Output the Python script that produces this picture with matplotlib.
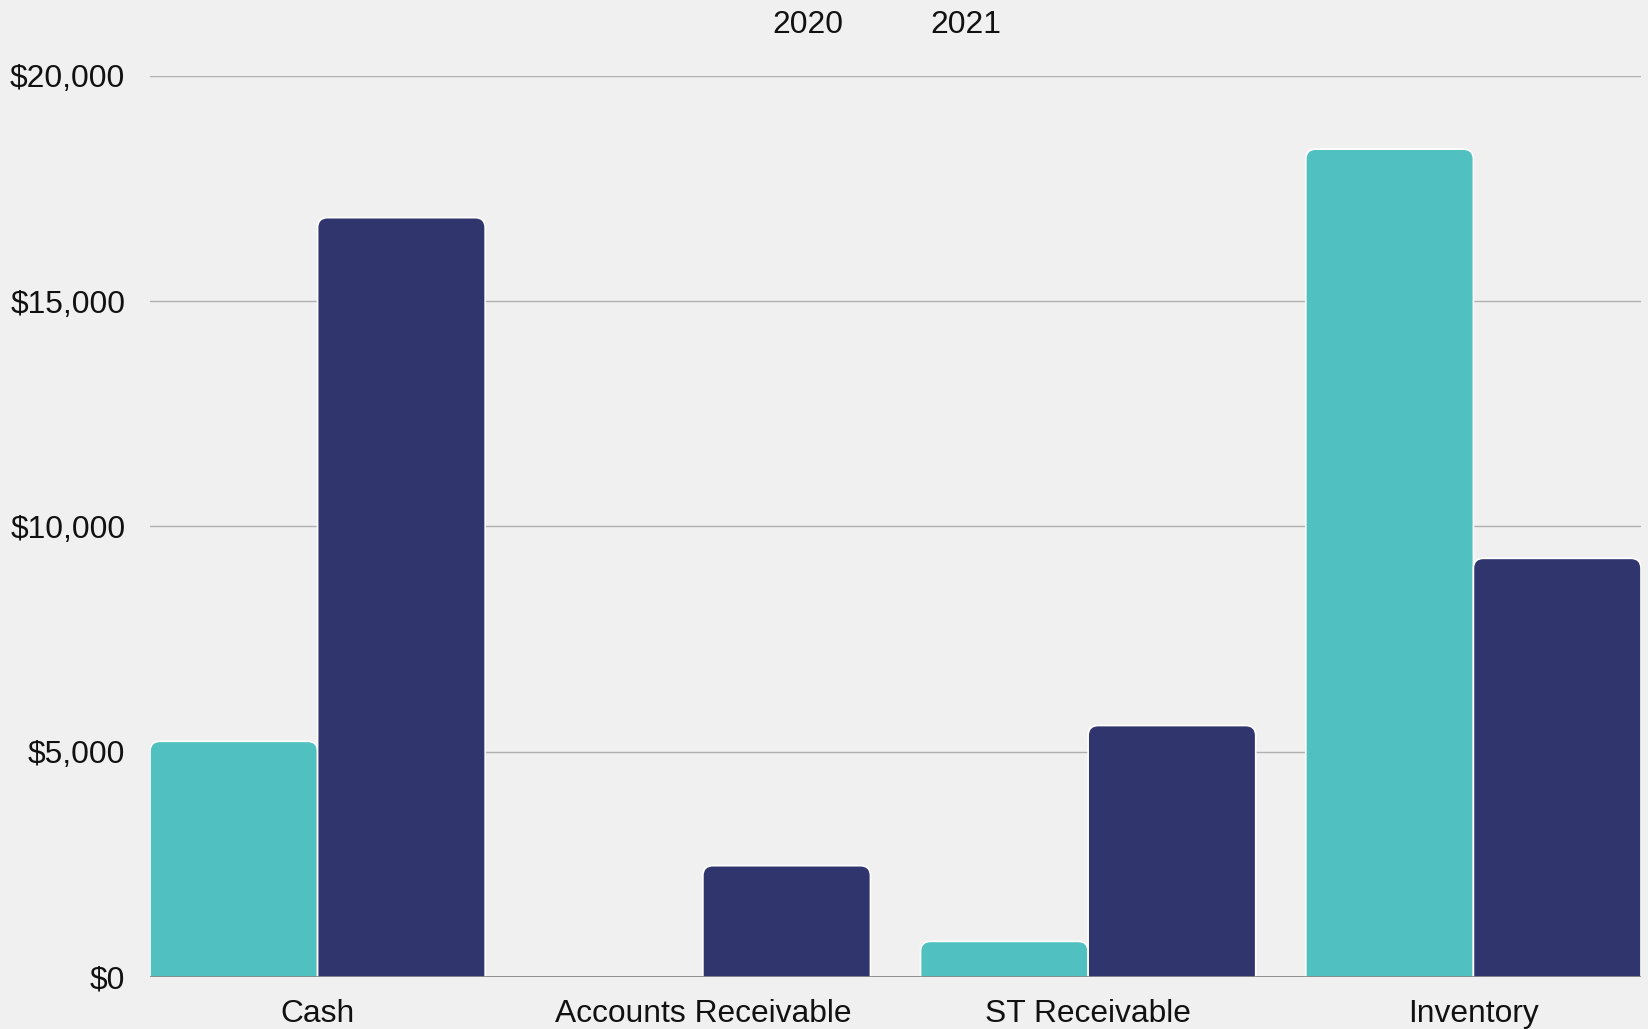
import matplotlib
matplotlib.use("Agg")
import matplotlib.pyplot as plt
import numpy as np
from matplotlib.patches import FancyBboxPatch
from matplotlib.ticker import FuncFormatter

categories = ["Cash", "Accounts Receivable", "ST Receivable", "Inventory"]
series_names = ["2020", "2021"]
values_2020 = [5230, 0, 790, 18370]
values_2021 = [16850, 2470, 5580, 9290]
y_ticks = [0, 5000, 10000, 15000, 20000]

colors = ["#50C0C0", "#31356E"]
bg = "#f0f0f0"

plt.rcParams['font.family'] = ['Liberation Sans', 'DejaVu Sans']
FS = 22.9

fig = plt.figure(figsize=(16.49, 10.29), dpi=100, facecolor=bg)
ax = fig.add_axes([150/1649, 52/1029, 1491/1649, 901.3/1029])
ax.set_facecolor(bg)

x = np.arange(len(categories))
w = 0.435
xmin, xmax = -w, len(categories) - 1 + w
ax.set_xlim(xmin, xmax)
ax.set_ylim(0, 20000)

fig.canvas.draw()
bbox = ax.get_window_extent()
ux = (xmax - xmin) / bbox.width
uy = 20000 / bbox.height
aspect = uy / ux
r = 10 * ux

for vals, off, col in [(values_2020, -w/2, colors[0]), (values_2021, w/2, colors[1])]:
    bars = ax.bar(x + off, vals, w, color=col, zorder=2)
    for rect, v in zip(bars, vals):
        rect.set_visible(False)
        if v <= 0:
            continue
        ext = 600
        p = FancyBboxPatch((rect.get_x(), -ext), rect.get_width(), v + ext,
                           boxstyle=f"round,pad=0,rounding_size={r}",
                           mutation_aspect=aspect, facecolor=col,
                           edgecolor="white", linewidth=1.2, zorder=2,
                           clip_on=True)
        ax.add_patch(p)

ax.set_yticks(y_ticks)
ax.yaxis.set_major_formatter(FuncFormatter(lambda v, p: f"${v:,.0f}"))
ax.set_xticks(x)
ax.set_xticklabels(categories)
ax.tick_params(axis='both', length=0, labelsize=FS, colors="#111111")
ax.tick_params(axis='y', pad=17.8)
ax.tick_params(axis='x', pad=16)
ax.grid(axis='y', color="#b0b0b0", linewidth=1, zorder=0)
ax.set_axisbelow(True)
for s in ax.spines.values():
    s.set_visible(False)
ax.axhline(0, color="#8a8a8a", linewidth=1.3, zorder=3)

fig.text(808/1649, 1 - 25/1029, series_names[0], ha='center', va='center', fontsize=FS, color="#111111")
fig.text(965.5/1649, 1 - 25/1029, series_names[1], ha='center', va='center', fontsize=FS, color="#111111")

fig.savefig("out.png", dpi=100, facecolor=bg)
